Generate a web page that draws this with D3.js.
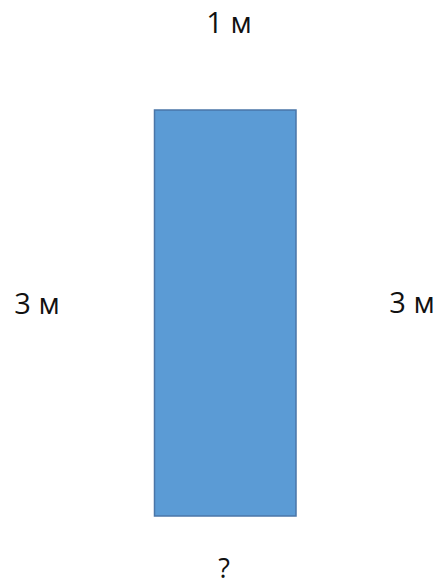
<!DOCTYPE html>
<html><head><meta charset="utf-8">
<script src="https://cdn.jsdelivr.net/npm/d3@7"></script>
<style>body{margin:0;background:#fff}svg{display:block}</style>
</head><body>
<script>
const sides = ["top","left","right","bottom"];
const sideLabels = ["1 м","3 м","3 м","?"];
const rectWidth = [1];
const rectHeight = [3];

const W = 442, H = 588;
const svg = d3.select("body").append("svg").attr("width", W).attr("height", H);
const x = d3.scaleLinear().domain([0, 1]).range([154.5, 296]);
const y = d3.scaleLinear().domain([0, 3]).range([110, 516]);

svg.selectAll("rect.box").data(rectWidth.map((w,i)=>({w, h: rectHeight[i]})))
  .enter().append("rect")
  .attr("x", x(0)).attr("y", y(0))
  .attr("width", d => x(d.w) - x(0))
  .attr("height", d => y(d.h) - y(0))
  .attr("fill", "#5B9BD5")
  .attr("stroke", "#4A76A8").attr("stroke-width", 1.5);

const pos = {
  top: [229, 33],
  left: [37, 314],
  right: [412, 313],
  bottom: [224, 578]
};
svg.selectAll("text.lbl").data(sides.map((s,i)=>({s, t: sideLabels[i]})))
  .enter().append("text")
  .attr("x", d => pos[d.s][0]).attr("y", d => pos[d.s][1])
  .attr("text-anchor", "middle")
  .attr("font-family", "Open Sans, sans-serif")
  .attr("font-size", d => d.s === "bottom" ? 27 : 29)
  .attr("font-weight", d => d.s === "bottom" ? 400 : 500)
  .attr("fill", "#111")
  .text(d => d.t);
</script>
</body></html>
